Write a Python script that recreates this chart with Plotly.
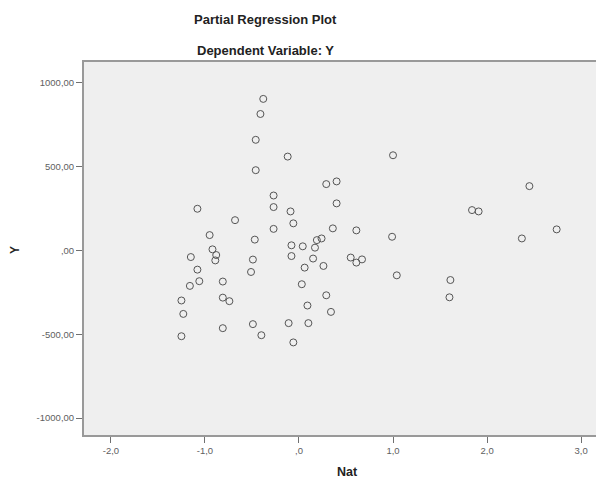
import plotly.graph_objects as go

nat = [-0.38, -0.41, -0.46, -0.12, -0.46, -0.27, -0.27, -1.08, -0.09, -0.68,
       -0.06, -0.27, -0.95, -0.47, -0.92, -0.88, -0.89, -1.15, -0.49, -0.08,
       0.04, -0.08, 0.06, -1.08, -0.51, -1.06, -1.16, -0.81, 0.03, -0.81,
       -0.74, -1.25, -1.23, 0.09, -0.49, -0.81, -0.11, 0.10, -0.40, -1.25,
       -0.06, 1.00, 0.29, 0.40, 0.40, 0.36, 0.61, 0.99, 0.24, 0.19,
       0.17, 0.15, 0.55, 0.61, 0.67, 0.26, 1.04, 0.29, 0.34, 2.45,
       1.84, 1.91, 2.74, 2.37, 1.61, 1.60]
y = [903, 813, 659, 559, 478, 327, 258, 248, 232, 180,
     161, 128, 91, 64, 6, -28, -60, -40, -55, 30,
     24, -34, -103, -115, -129, -184, -212, -186, -202, -282,
     -303, -299, -379, -329, -440, -464, -434, -434, -506, -512,
     -549, 567, 395, 411, 280, 131, 119, 81, 71, 61,
     16, -49, -43, -73, -54, -93, -149, -268, -367, 383,
     240, 232, 125, 71, -177, -280]

x_ticks = [-2, -1, 0, 1, 2, 3]
x_tick_labels = ["-2,0", "-1,0", ",0", "1,0", "2,0", "3,0"]
y_ticks = [1000, 500, 0, -500, -1000]
y_tick_labels = ["1000,00", "500,00", ",00", "-500,00", "-1000,00"]

FONT = "Liberation Sans, Arial, sans-serif"

fig = go.Figure()
fig.add_trace(go.Scatter(
    x=nat, y=y, mode="markers",
    marker=dict(symbol="circle-open", size=7, color="#555555",
                line=dict(width=1, color="#555555")),
    showlegend=False, hoverinfo="x+y",
))

axis_common = dict(
    showgrid=False, zeroline=False, showline=True, mirror=True,
    linecolor="#999999", linewidth=2, ticks="outside", ticklen=6,
    tickcolor="#707070", tickwidth=1,
    tickfont=dict(family=FONT, size=9.5, color="#606060"),
)

fig.update_xaxes(range=[-2.286, 3.222], tickvals=x_ticks, ticktext=x_tick_labels,
                 **axis_common)
fig.update_yaxes(range=[-1101, 1123], tickvals=y_ticks, ticktext=y_tick_labels,
                 **axis_common)

annos = [
    dict(text="<b>Partial Regression Plot</b>", x=0.35, y=1.113, size=13, angle=0),
    dict(text="<b>Dependent Variable: Y</b>", x=0.35, y=1.032, size=13, angle=0),
    dict(text="<b>Nat</b>", x=0.508, y=-0.099, size=12.5, angle=0),
    dict(text="<b>Y</b>", x=-0.133, y=0.496, size=12, angle=-90),
]
for a in annos:
    fig.add_annotation(text=a["text"], x=a["x"], y=a["y"], xref="paper", yref="paper",
                       showarrow=False, xanchor="center", yanchor="middle",
                       textangle=a["angle"],
                       font=dict(family=FONT, size=a["size"], color="#222222"))

fig.update_layout(
    width=596, height=473,
    margin=dict(l=76, r=0, t=54, b=46),
    plot_bgcolor="#efefef", paper_bgcolor="#ffffff",
    font=dict(family=FONT),
)

fig.write_html("out.html")
